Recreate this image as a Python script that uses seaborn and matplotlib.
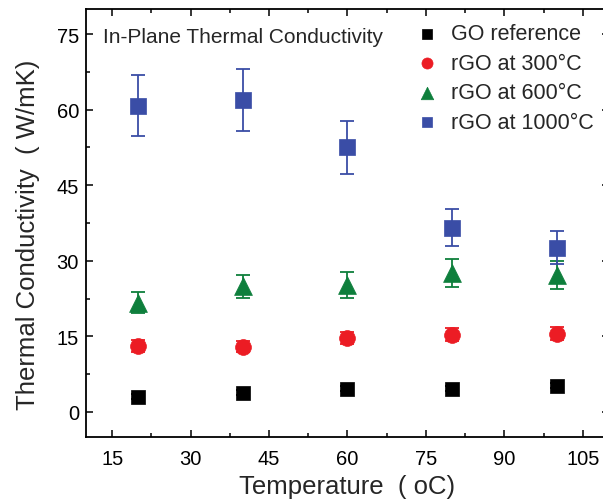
import numpy as np
import pandas as pd
import matplotlib
matplotlib.use("Agg")
import matplotlib.pyplot as plt
import seaborn as sns
from matplotlib.ticker import MultipleLocator

temperature = [20, 40, 60, 80, 100]
series_names = ["GO reference", "rGO at 300°C", "rGO at 600°C", "rGO at 1000°C"]
go_ref = [3.0, 3.8, 4.6, 4.6, 5.2]
go_ref_err = [0.5, 0.5, 0.5, 0.5, 0.5]
rgo_300 = [13.1, 12.9, 14.7, 15.3, 15.5]
rgo_300_err = [1.2, 1.1, 1.2, 1.3, 1.3]
rgo_600 = [21.7, 24.9, 25.2, 27.6, 27.2]
rgo_600_err = [2.0, 2.3, 2.5, 2.8, 2.8]
rgo_1000 = [60.8, 61.9, 52.5, 36.6, 32.6]
rgo_1000_err = [6.1, 6.2, 5.2, 3.7, 3.3]

values = [go_ref, rgo_300, rgo_600, rgo_1000]
errors = [go_ref_err, rgo_300_err, rgo_600_err, rgo_1000_err]
colors = ["#000000", "#EC1C24", "#0E7F3C", "#3A4DA6"]
markers = ["s", "o", "^", "s"]
sizes = [100, 130, 165, 120]

df = pd.DataFrame({
    "Temperature": temperature * 4,
    "k": sum(values, []),
    "err": sum(errors, []),
    "series": [n for n in series_names for _ in temperature],
})

sns.set_style("ticks")
plt.rcParams["font.family"] = ["Liberation Sans", "DejaVu Sans"]

fig = plt.figure(figsize=(6.03, 5.02), dpi=100)
ax = fig.add_axes([0.1426, 0.1275, 0.8673, 0.8526])

for name, c, m, s in zip(series_names, colors, markers, sizes):
    sub = df[df["series"] == name]
    ax.errorbar(sub["Temperature"], sub["k"], yerr=sub["err"], fmt="none",
                ecolor=c, elinewidth=1.3, capsize=5, capthick=1.3, zorder=2)
    sns.scatterplot(data=sub, x="Temperature", y="k", marker=m, color=c,
                    s=s, edgecolor=c, linewidth=0.5, ax=ax, label=name, zorder=3)

ax.set_xlim(10, 110)
ax.set_ylim(-5, 80)
ax.xaxis.set_major_locator(MultipleLocator(15))
ax.xaxis.set_minor_locator(MultipleLocator(7.5))
ax.yaxis.set_major_locator(MultipleLocator(15))
ax.yaxis.set_minor_locator(MultipleLocator(7.5))
ax.set_xticks([15, 30, 45, 60, 75, 90, 105])
ax.tick_params(which="both", direction="in", top=True, right=True, width=1.1,
               colors="black", labelsize=14.5)
ax.tick_params(which="major", length=5)
ax.tick_params(which="minor", length=3)
ax.tick_params(axis="x", which="major", pad=9)
ax.tick_params(axis="y", which="major", pad=5)
for sp in ax.spines.values():
    sp.set_linewidth(1.3)
    sp.set_color("black")

ax.set_xlabel("Temperature  ( oC)", fontsize=18.5, labelpad=4)
ax.set_ylabel("Thermal Conductivity  ( W/mK)", fontsize=18.5)
ax.yaxis.set_label_coords(-0.088, 0.475)
ax.text(0.033, 0.958, "In-Plane Thermal Conductivity", transform=ax.transAxes,
        fontsize=15, ha="left", va="top")

leg = ax.legend(loc="upper right", bbox_to_anchor=(1.0, 1.002), frameon=False,
                fontsize=15.5, handletextpad=0.1, labelspacing=0.4,
                markerscale=0.7, borderaxespad=0.3)

fig.savefig("out.png", dpi=100)
